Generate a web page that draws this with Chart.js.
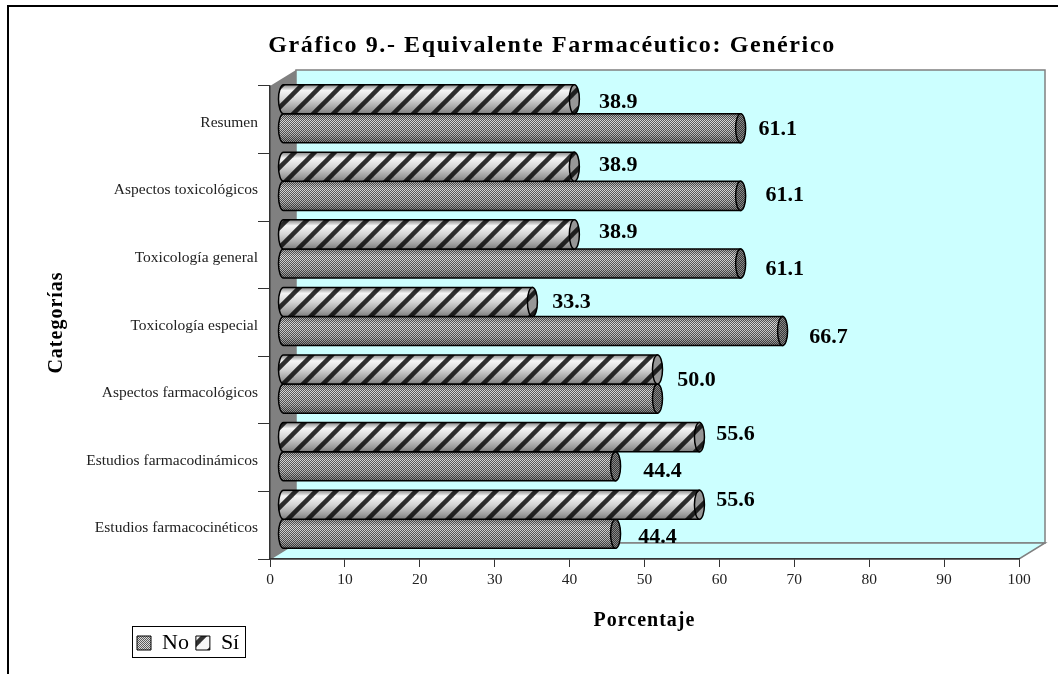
<!DOCTYPE html>
<html>
<head>
<meta charset="utf-8">
<title>Gráfico 9</title>
<script src="https://cdn.jsdelivr.net/npm/chart.js@4"></script>
<style>
  html, body { margin: 0; padding: 0; background: #fff; overflow: hidden; }
  canvas { display: block; }
</style>
</head>
<body>
<canvas id="grafico" width="1058" height="674"></canvas>
<script>
const categorias = ['Estudios farmacocinéticos', 'Estudios farmacodinámicos', 'Aspectos farmacológicos', 'Toxicología especial', 'Toxicología general', 'Aspectos toxicológicos', 'Resumen'];
const valoresNo = [44.4, 44.4, 50.0, 66.7, 61.1, 61.1, 61.1];
const valoresSi = [55.6, 55.6, 50.0, 33.3, 38.9, 38.9, 38.9];
const ticksX = [0, 10, 20, 30, 40, 50, 60, 70, 80, 90, 100];

// where each number sits relative to the end of its bar (the 3D chart scatters them)
const ajusteNo = [[55, -2], [60, -1], null, [59, 0], [57, 0], [57, -7], [50, -5]];
const ajusteSi = [[49, -10], [49, -9], [52, 5], [52, -6], [57, -8], [57, -8], [57, -3]];

const SERIF = '"Liberation Serif", serif';
const FONDO_X = 26, FONDO_Y = 16; // wall depth
const BARRA_DX = 13, BARRA_DY = -6; // bars stand in the middle of the depth

function tramaRayas() {
    const c = document.createElement('canvas');
    c.width = c.height = 20;
    const g = c.getContext('2d');
    g.fillStyle = '#f6f6f6';
    g.fillRect(0, 0, 20, 20);
    g.strokeStyle = '#303030';
    g.lineWidth = 4.5;
    for (const d of [-20, 0, 20]) {
        g.beginPath();
        g.moveTo(d - 2, 22);
        g.lineTo(d + 22, -2);
        g.stroke();
    }
    return g.createPattern(c, 'repeat');
}

function tramaPuntos() {
    const c = document.createElement('canvas');
    c.width = c.height = 2;
    const g = c.getContext('2d');
    g.fillStyle = '#dcdcdc';
    g.fillRect(0, 0, 2, 2);
    g.fillStyle = '#5c5c5c';
    g.fillRect(0, 0, 1, 1);
    g.fillRect(1, 1, 1, 1);
    return g.createPattern(c, 'repeat');
}

// native title blocks have no letter spacing, the original font runs wider
function conEspaciado(obj, metodo, espacio) {
    const original = obj[metodo];
    obj[metodo] = function (...args) {
        const ctx = this.ctx;
        ctx.letterSpacing = espacio;
        original.apply(this, args);
        ctx.letterSpacing = '0px';
    };
}

const paredes = {
    id: 'paredes',
    afterLayout(chart) {
        chart.legend.left = 130;
        chart.legend.top = 625;
        if (!chart.$espaciado) {
            chart.$espaciado = true;
            conEspaciado(chart.titleBlock, 'draw', '1.6px');
            conEspaciado(chart.scales.x, 'drawTitle', '1px');
            conEspaciado(chart.scales.y, 'drawTitle', '1px');
        }
    },
    beforeDraw(chart) {
        const ctx = chart.ctx, a = chart.chartArea;
        ctx.save();
        ctx.fillStyle = '#fff';
        ctx.fillRect(0, 0, chart.width, chart.height);

        // page frame
        ctx.fillStyle = '#000';
        ctx.fillRect(7, 5, chart.width - 7, 2);
        ctx.fillRect(7, 5, 2, chart.height - 5);

        // back wall
        ctx.fillStyle = '#ccffff';
        ctx.strokeStyle = '#808080';
        ctx.lineWidth = 1.5;
        ctx.fillRect(a.left + FONDO_X, a.top - FONDO_Y, a.width, a.height);
        ctx.strokeRect(a.left + FONDO_X, a.top - FONDO_Y, a.width, a.height);

        // floor
        ctx.beginPath();
        ctx.moveTo(a.left, a.bottom);
        ctx.lineTo(a.left + FONDO_X, a.bottom - FONDO_Y);
        ctx.lineTo(a.right + FONDO_X, a.bottom - FONDO_Y);
        ctx.lineTo(a.right, a.bottom);
        ctx.closePath();
        ctx.fill();
        ctx.stroke();

        // side wall
        ctx.fillStyle = '#808080';
        ctx.beginPath();
        ctx.moveTo(a.left, a.bottom);
        ctx.lineTo(a.left + FONDO_X, a.bottom - FONDO_Y);
        ctx.lineTo(a.left + FONDO_X, a.top - FONDO_Y);
        ctx.lineTo(a.left, a.top);
        ctx.closePath();
        ctx.fill();

        // legend box
        ctx.fillStyle = '#fff';
        ctx.strokeStyle = '#000';
        ctx.lineWidth = 1;
        ctx.fillRect(132.5, 626.5, 113, 31);
        ctx.strokeRect(132.5, 626.5, 113, 31);
        ctx.restore();
    }
};

function trazoCilindro(ctx, izq, der, y, h) {
    ctx.beginPath();
    ctx.moveTo(izq, y - h / 2);
    ctx.lineTo(der, y - h / 2);
    ctx.lineTo(der, y + h / 2);
    ctx.lineTo(izq, y + h / 2);
    ctx.ellipse(izq, y, 5, h / 2, 0, Math.PI / 2, Math.PI * 1.5);
    ctx.closePath();
}

// library draws the bar, this turns it into a cylinder and pushes it into the depth
const cilindros = {
    id: 'cilindros',
    beforeDatasetDraw(chart) {
        chart.ctx.save();
        chart.ctx.translate(BARRA_DX, BARRA_DY);
    },
    afterDatasetDraw(chart, args) {
        const ctx = chart.ctx;
        const ds = chart.data.datasets[args.index];
        const rayas = ds.label === 'Sí';
        for (const bar of args.meta.data) {
            const { x, y, base, height: h } = bar.getProps(['x', 'y', 'base', 'height'], true);
            ctx.fillStyle = ds.backgroundColor;
            trazoCilindro(ctx, base, x, y, h);
            ctx.fill();

            const g = ctx.createLinearGradient(0, y - h / 2, 0, y + h / 2);
            if (rayas) {
                g.addColorStop(0, '#8a8a8a');
                g.addColorStop(0.2, '#ffffff');
                g.addColorStop(0.5, '#dcdcdc');
                g.addColorStop(0.85, '#a0a0a0');
                g.addColorStop(1, '#808080');
            } else {
                g.addColorStop(0, '#b0b0b0');
                g.addColorStop(0.25, '#ffffff');
                g.addColorStop(0.7, '#d8d8d8');
                g.addColorStop(1, '#909090');
            }
            ctx.save();
            ctx.globalCompositeOperation = 'multiply';
            ctx.fillStyle = g;
            ctx.fill();
            ctx.restore();

            ctx.strokeStyle = '#000';
            ctx.lineWidth = 1.5;
            ctx.stroke();

            // end cap
            ctx.beginPath();
            ctx.ellipse(x, y, 5, h / 2, 0, 0, Math.PI * 2);
            ctx.fillStyle = ds.backgroundColor;
            ctx.fill();
            ctx.save();
            ctx.globalCompositeOperation = 'multiply';
            ctx.fillStyle = '#9c9c9c';
            ctx.fill();
            ctx.restore();
            ctx.stroke();
        }
        ctx.restore();
    }
};

const etiquetas = {
    id: 'etiquetas',
    afterDatasetsDraw(chart) {
        const ctx = chart.ctx;
        ctx.save();
        ctx.font = 'bold 22px ' + SERIF;
        ctx.fillStyle = '#000';
        ctx.textAlign = 'center';
        ctx.textBaseline = 'middle';
        chart.data.datasets.forEach((ds, i) => {
            const ajuste = ds.label === 'No' ? ajusteNo : ajusteSi;
            chart.getDatasetMeta(i).data.forEach((bar, k) => {
                if (!ajuste[k]) return; // both 50.0 land on the same spot
                ctx.fillText(ds.data[k].toFixed(1), bar.x + ajuste[k][0], bar.y + ajuste[k][1]);
            });
        });
        ctx.restore();
    }
};

const trazoRayas = tramaRayas();
const trazoPuntos = tramaPuntos();

new Chart(document.getElementById('grafico').getContext('2d'), {
    type: 'bar',
    plugins: [paredes, cilindros, etiquetas],
    data: {
        labels: categorias,
        datasets: [{
            label: 'Sí',
            data: valoresSi,
            backgroundColor: trazoRayas,
            borderColor: '#000',
            borderWidth: 1,
            borderSkipped: false,
            clip: false
        }, {
            label: 'No',
            data: valoresNo,
            backgroundColor: trazoPuntos,
            borderColor: '#000',
            borderWidth: 1,
            borderSkipped: false,
            clip: false
        }]
    },
    options: {
        indexAxis: 'y',
        responsive: false,
        animation: false,
        events: [],
        categoryPercentage: 0.86,
        barPercentage: 1,
        layout: { padding: { left: 85, right: 39, top: 0, bottom: 0 } },
        scales: {
            x: {
                min: 0,
                max: 100,
                afterBuildTicks(scale) { scale.ticks = ticksX.map(v => ({ value: v })); },
                afterFit(scale) { scale.height = 76; },
                border: { color: '#333', width: 1.5 },
                grid: { drawOnChartArea: false, tickLength: 8, tickColor: '#333' },
                ticks: { color: '#222', padding: 4, maxRotation: 0, font: { family: SERIF, size: 15.5 } },
                title: { display: true, text: 'Porcentaje', color: '#000', padding: { top: 0, bottom: 2 }, font: { family: SERIF, size: 20, weight: 'bold' } }
            },
            y: {
                reverse: true,
                afterFit(scale) { scale.width = 185; },
                border: { color: '#333', width: 1.5 },
                grid: { drawOnChartArea: false, tickLength: 12, tickColor: '#333' },
                ticks: { color: '#222', padding: 0, labelOffset: 3, font: { family: SERIF, size: 15.5 } },
                title: { display: true, text: 'Categorías', color: '#000', padding: { top: -40, bottom: 0 }, font: { family: SERIF, size: 20, weight: 'bold' } }
            }
        },
        plugins: {
            title: {
                display: true,
                text: 'Gráfico 9.- Equivalente Farmacéutico: Genérico',
                color: '#000',
                padding: { top: 31.8, bottom: 25.4 },
                font: { family: SERIF, size: 24, weight: 'bold' }
            },
            legend: {
                position: 'bottom',
                align: 'start',
                reverse: true,
                labels: { boxWidth: 14, boxHeight: 14, padding: 7, color: '#000', font: { family: SERIF, size: 22 } }
            },
            tooltip: { enabled: false }
        }
    }
});
</script>
</body>
</html>
